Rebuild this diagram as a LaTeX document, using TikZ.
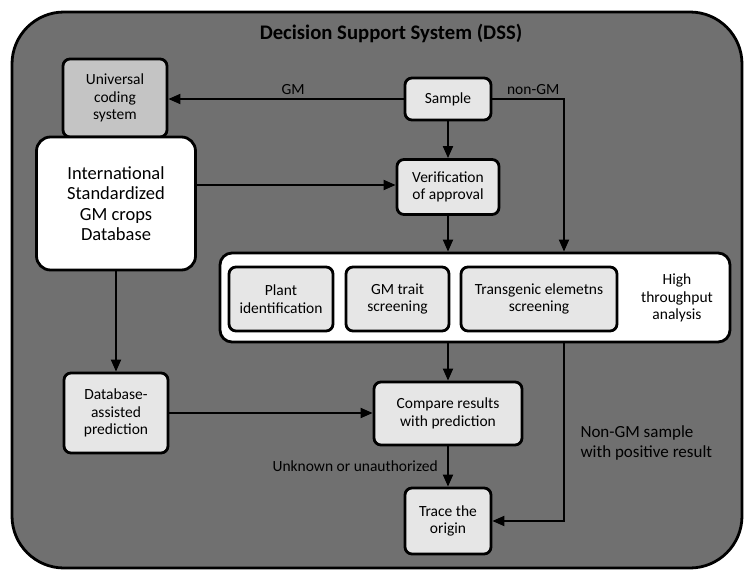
\documentclass[tikz,border=0pt]{standalone}
\usepackage{fontspec}
\setmainfont{Carlito}
\usetikzlibrary{arrows.meta}
\definecolor{dssGray}{RGB}{112,112,112}
\definecolor{boxGray}{RGB}{230,230,230}
\definecolor{codeGray}{RGB}{196,196,196}

\begin{document}
\begin{tikzpicture}
[x=1pt,y=-1pt,
  boxDecorate/.style={draw,line width=2.8pt,rounded corners=7pt,fill=boxGray,
    align=center,inner sep=0pt,font=\fontsize{15.5}{17.5}\selectfont},
  lineDecorate/.style={line width=1.9pt},
  arrowDecorate/.style={lineDecorate,-{Triangle[length=12pt,width=10pt]}},
  labelDecorate/.style={font=\fontsize{15.5}{17.5}\selectfont}]
\useasboundingbox (0,0) rectangle (755,581);
%% frame of the whole system
\draw[line width=2.8pt,fill=dssGray,rounded corners=52pt] (12,12) rectangle (742,568);
\node[font=\fontsize{20.7}{24}\selectfont\bfseries] (title) at (391,33)
  {Decision Support System (DSS)};
%% database side
\node (univ) at (115,98) [boxDecorate,fill=codeGray,minimum width=104pt,minimum height=78pt]
  {Universal\\coding\\system};
\node (intl) at (116,203.5) [boxDecorate,fill=white,rounded corners=14pt,
  minimum width=159pt,minimum height=133pt,font=\fontsize{18.5}{20.5}\selectfont]
  {International\\Standardized\\GM crops\\Database};
%% high throughput analysis
\node (hta) at (475,297.5) [boxDecorate,fill=white,rounded corners=12pt,
  minimum width=510pt,minimum height=89pt] {};
\node (htaText) at (677,298) [labelDecorate,align=center] {High\\throughput\\analysis};
%% boxes
\foreach \nodename/\x/\y/\w/\h/\boxtext in {
  sample/448/99/86/42/Sample, verif/448/187/102/55/Verification\\of approval,
  plant/281/299/104/64/Plant\\identification, trait/397.5/299/103/64/GM trait\\screening,
  transg/539/299/156/64/Transgenic elemetns\\screening,
  dbpred/116/413/104/80/Database-\\assisted\\prediction,
  compare/448/413.5/148/63/Compare results\\with prediction,
  trace/448/521/86/66/Trace the\\origin}
{
  \node (\nodename) at (\x,\y) [boxDecorate,minimum width=\w pt,minimum height=\h pt] {\boxtext};
}
\coordinate (nonGMcorner) at (564,99);
%% connectors
\path
\foreach \startnode/\endnode in {sample/verif, intl/dbpred}
{
  (\startnode) edge[arrowDecorate] (\endnode)
};
\draw[arrowDecorate] (sample.west) -- node[labelDecorate,above,pos=0.47] {GM} (sample.west -| univ.east);
\draw[arrowDecorate] (sample.east) -- node[labelDecorate,above,pos=0.57] {non-GM} (nonGMcorner)
  -- (nonGMcorner |- hta.north);
\draw[arrowDecorate] (intl.east |- 0,185) -- (verif.west |- 0,185);
\draw[arrowDecorate] (verif.south) -- (verif.south |- hta.north);
\draw[arrowDecorate] (hta.south -| compare.north) -- (compare.north);
\draw[arrowDecorate] (dbpred.east) -- (dbpred.east -| compare.west);
\draw[arrowDecorate] (compare.south) -- node[labelDecorate,left,xshift=-6pt] {Unknown or unauthorized} (trace.north);
\draw[arrowDecorate] (hta.south -| nonGMcorner) |- (trace.east);
\node (posText) at (577,443) [anchor=west,align=left,font=\fontsize{17}{20}\selectfont]
  {Non-GM sample\\with positive result};
\end{tikzpicture}
\end{document}
